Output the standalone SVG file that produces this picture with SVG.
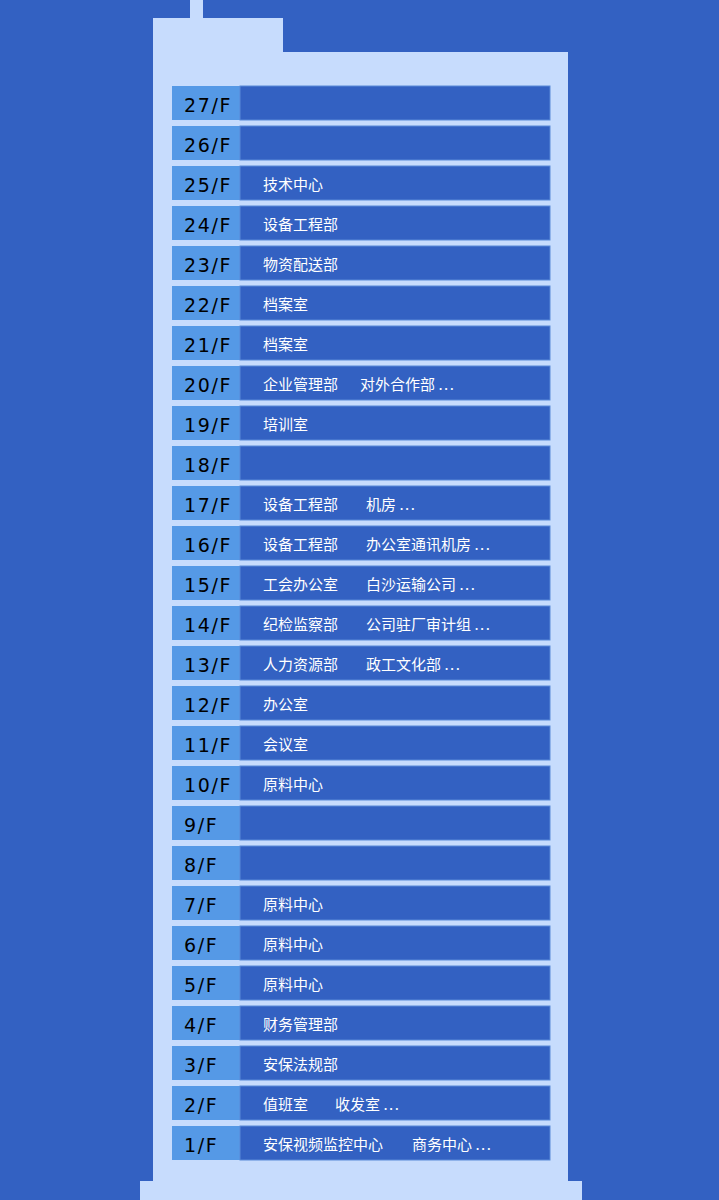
<svg xmlns="http://www.w3.org/2000/svg" width="719" height="1200" viewBox="0 0 719 1200">
<style>
.lab{fill:#5599e6}
.cell{fill:#3361c2;stroke:#5a8ad8;stroke-width:1}
.fl{font-family:"DejaVu Sans",sans-serif;font-size:19px;letter-spacing:1.6px;fill:#000}
.tx{font-family:"Noto Sans CJK SC","Noto Sans",sans-serif;font-size:15px;font-weight:400;fill:#fff}
.dt{letter-spacing:1.5px}
</style>
<rect width="719" height="1200" fill="#3361c2"/>
<g id="building" fill="#c7dcfd">
<rect x="190" y="0" width="13" height="20"/>
<rect x="153" y="18" width="130" height="40"/>
<rect x="153" y="52" width="415" height="1135"/>
<rect x="140" y="1181" width="442" height="19"/>
</g>
<g id="f27"><rect class="lab" x="172" y="86" width="68" height="34"/><rect class="cell" x="240" y="86" width="310" height="34"/><text class="fl" x="184" y="112">27/F</text></g>
<g id="f26"><rect class="lab" x="172" y="126" width="68" height="34"/><rect class="cell" x="240" y="126" width="310" height="34"/><text class="fl" x="184" y="152">26/F</text></g>
<g id="f25"><rect class="lab" x="172" y="166" width="68" height="34"/><rect class="cell" x="240" y="166" width="310" height="34"/><text class="fl" x="184" y="192">25/F</text><text class="tx" x="263" y="189.5">技术中心</text></g>
<g id="f24"><rect class="lab" x="172" y="206" width="68" height="34"/><rect class="cell" x="240" y="206" width="310" height="34"/><text class="fl" x="184" y="232">24/F</text><text class="tx" x="263" y="229.5">设备工程部</text></g>
<g id="f23"><rect class="lab" x="172" y="246" width="68" height="34"/><rect class="cell" x="240" y="246" width="310" height="34"/><text class="fl" x="184" y="272">23/F</text><text class="tx" x="263" y="269.5">物资配送部</text></g>
<g id="f22"><rect class="lab" x="172" y="286" width="68" height="34"/><rect class="cell" x="240" y="286" width="310" height="34"/><text class="fl" x="184" y="312">22/F</text><text class="tx" x="263" y="309.5">档案室</text></g>
<g id="f21"><rect class="lab" x="172" y="326" width="68" height="34"/><rect class="cell" x="240" y="326" width="310" height="34"/><text class="fl" x="184" y="352">21/F</text><text class="tx" x="263" y="349.5">档案室</text></g>
<g id="f20"><rect class="lab" x="172" y="366" width="68" height="34"/><rect class="cell" x="240" y="366" width="310" height="34"/><text class="fl" x="184" y="392">20/F</text><text class="tx" x="263" y="389.5">企业管理部</text><text class="tx" x="360" y="389.5">对外合作部 <tspan class="dt">...</tspan></text></g>
<g id="f19"><rect class="lab" x="172" y="406" width="68" height="34"/><rect class="cell" x="240" y="406" width="310" height="34"/><text class="fl" x="184" y="432">19/F</text><text class="tx" x="263" y="429.5">培训室</text></g>
<g id="f18"><rect class="lab" x="172" y="446" width="68" height="34"/><rect class="cell" x="240" y="446" width="310" height="34"/><text class="fl" x="184" y="472">18/F</text></g>
<g id="f17"><rect class="lab" x="172" y="486" width="68" height="34"/><rect class="cell" x="240" y="486" width="310" height="34"/><text class="fl" x="184" y="512">17/F</text><text class="tx" x="263" y="509.5">设备工程部</text><text class="tx" x="366" y="509.5">机房 <tspan class="dt">...</tspan></text></g>
<g id="f16"><rect class="lab" x="172" y="526" width="68" height="34"/><rect class="cell" x="240" y="526" width="310" height="34"/><text class="fl" x="184" y="552">16/F</text><text class="tx" x="263" y="549.5">设备工程部</text><text class="tx" x="366" y="549.5">办公室通讯机房 <tspan class="dt">...</tspan></text></g>
<g id="f15"><rect class="lab" x="172" y="566" width="68" height="34"/><rect class="cell" x="240" y="566" width="310" height="34"/><text class="fl" x="184" y="592">15/F</text><text class="tx" x="263" y="589.5">工会办公室</text><text class="tx" x="366" y="589.5">白沙运输公司 <tspan class="dt">...</tspan></text></g>
<g id="f14"><rect class="lab" x="172" y="606" width="68" height="34"/><rect class="cell" x="240" y="606" width="310" height="34"/><text class="fl" x="184" y="632">14/F</text><text class="tx" x="263" y="629.5">纪检监察部</text><text class="tx" x="366" y="629.5">公司驻厂审计组 <tspan class="dt">...</tspan></text></g>
<g id="f13"><rect class="lab" x="172" y="646" width="68" height="34"/><rect class="cell" x="240" y="646" width="310" height="34"/><text class="fl" x="184" y="672">13/F</text><text class="tx" x="263" y="669.5">人力资源部</text><text class="tx" x="366" y="669.5">政工文化部 <tspan class="dt">...</tspan></text></g>
<g id="f12"><rect class="lab" x="172" y="686" width="68" height="34"/><rect class="cell" x="240" y="686" width="310" height="34"/><text class="fl" x="184" y="712">12/F</text><text class="tx" x="263" y="709.5">办公室</text></g>
<g id="f11"><rect class="lab" x="172" y="726" width="68" height="34"/><rect class="cell" x="240" y="726" width="310" height="34"/><text class="fl" x="184" y="752">11/F</text><text class="tx" x="263" y="749.5">会议室</text></g>
<g id="f10"><rect class="lab" x="172" y="766" width="68" height="34"/><rect class="cell" x="240" y="766" width="310" height="34"/><text class="fl" x="184" y="792">10/F</text><text class="tx" x="263" y="789.5">原料中心</text></g>
<g id="f9"><rect class="lab" x="172" y="806" width="68" height="34"/><rect class="cell" x="240" y="806" width="310" height="34"/><text class="fl" x="184" y="832">9/F</text></g>
<g id="f8"><rect class="lab" x="172" y="846" width="68" height="34"/><rect class="cell" x="240" y="846" width="310" height="34"/><text class="fl" x="184" y="872">8/F</text></g>
<g id="f7"><rect class="lab" x="172" y="886" width="68" height="34"/><rect class="cell" x="240" y="886" width="310" height="34"/><text class="fl" x="184" y="912">7/F</text><text class="tx" x="263" y="909.5">原料中心</text></g>
<g id="f6"><rect class="lab" x="172" y="926" width="68" height="34"/><rect class="cell" x="240" y="926" width="310" height="34"/><text class="fl" x="184" y="952">6/F</text><text class="tx" x="263" y="949.5">原料中心</text></g>
<g id="f5"><rect class="lab" x="172" y="966" width="68" height="34"/><rect class="cell" x="240" y="966" width="310" height="34"/><text class="fl" x="184" y="992">5/F</text><text class="tx" x="263" y="989.5">原料中心</text></g>
<g id="f4"><rect class="lab" x="172" y="1006" width="68" height="34"/><rect class="cell" x="240" y="1006" width="310" height="34"/><text class="fl" x="184" y="1032">4/F</text><text class="tx" x="263" y="1029.5">财务管理部</text></g>
<g id="f3"><rect class="lab" x="172" y="1046" width="68" height="34"/><rect class="cell" x="240" y="1046" width="310" height="34"/><text class="fl" x="184" y="1072">3/F</text><text class="tx" x="263" y="1069.5">安保法规部</text></g>
<g id="f2"><rect class="lab" x="172" y="1086" width="68" height="34"/><rect class="cell" x="240" y="1086" width="310" height="34"/><text class="fl" x="184" y="1112">2/F</text><text class="tx" x="263" y="1109.5">值班室</text><text class="tx" x="335" y="1109.5">收发室 <tspan class="dt">...</tspan></text></g>
<g id="f1"><rect class="lab" x="172" y="1126" width="68" height="34"/><rect class="cell" x="240" y="1126" width="310" height="34"/><text class="fl" x="184" y="1152">1/F</text><text class="tx" x="263" y="1149.5">安保视频监控中心</text><text class="tx" x="412" y="1149.5">商务中心 <tspan class="dt">...</tspan></text></g>
<g id="connectors"/>
</svg>
